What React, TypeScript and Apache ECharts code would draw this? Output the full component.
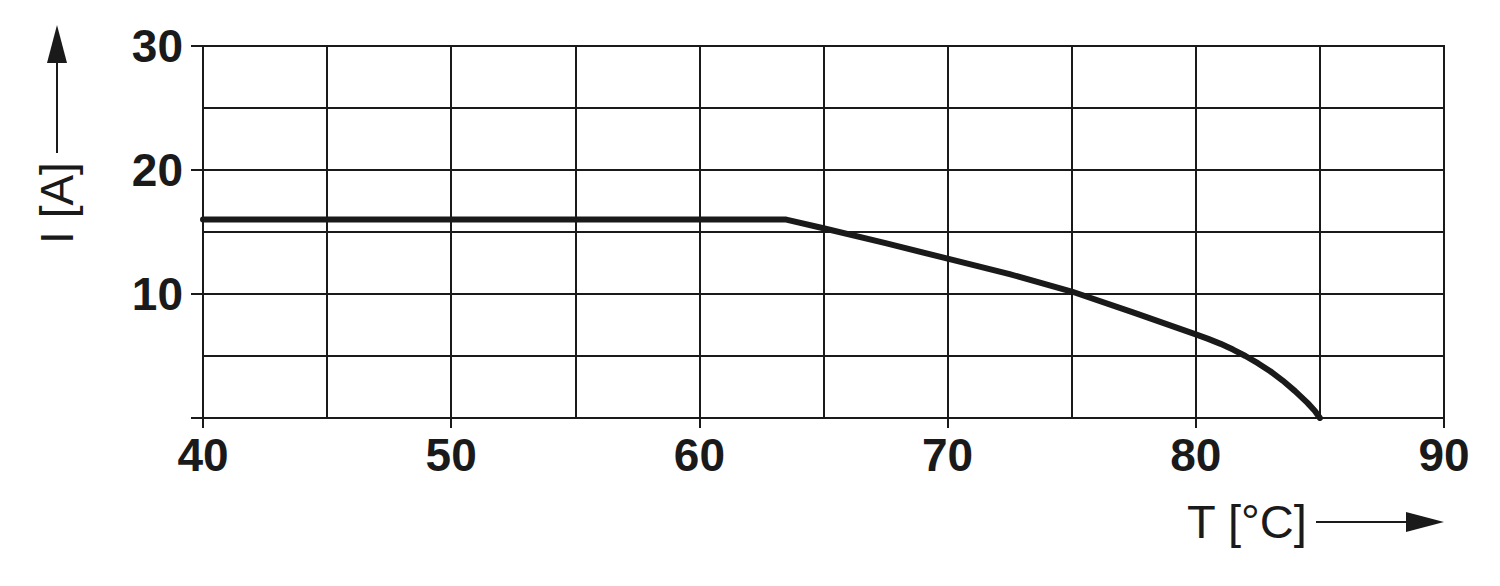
import React, { useEffect, useRef } from "react";
import * as echarts from "echarts";

const temps = [40, 63.5, 65, 67.5, 70, 72.5, 75, 77.5, 80, 80.5, 81, 81.5, 82, 82.5, 83, 83.5, 84, 84.5, 84.8, 85];
const currents = [16, 16, 15.3, 14.1, 12.85, 11.6, 10.2, 8.5, 6.75, 6.38, 5.98, 5.52, 5.0, 4.42, 3.77, 3.02, 2.17, 1.22, 0.57, 0];
const xName = "T [°C]";
const yName = "I [A]";

const FONT = "'Liberation Sans', Arial, Helvetica, sans-serif";
const INK = "#1a1a1a";

export default function App() {
  const ref = useRef<HTMLDivElement>(null);
  useEffect(() => {
    document.body.style.margin = "0";
    if (!ref.current) return;
    const chart = echarts.init(ref.current, null, { renderer: "svg" });
    const data = temps.map((t, i) => [t, currents[i]]);
    chart.setOption({
      animation: false,
      backgroundColor: "#ffffff",
      grid: {
        left: 203,
        top: 46,
        width: 1241,
        height: 372,
        show: true,
        borderWidth: 2,
        borderColor: INK,
        backgroundColor: "transparent",
      },
      xAxis: [
        {
          type: "value",
          min: 40,
          max: 90,
          interval: 10,
          position: "bottom",
          axisLine: { show: false },
          axisTick: { show: true, inside: false, length: 10, lineStyle: { color: INK, width: 2 } },
          axisLabel: { fontFamily: FONT, fontWeight: "bold", fontSize: 46, color: INK, margin: 14 },
          splitLine: { show: false },
        },
        {
          type: "value",
          min: 40,
          max: 90,
          interval: 5,
          position: "top",
          axisLine: { show: false },
          axisTick: { show: false },
          axisLabel: { show: false },
          splitLine: { show: true, lineStyle: { color: INK, width: 2 } },
        },
      ],
      yAxis: [
        {
          type: "value",
          min: 0,
          max: 30,
          interval: 10,
          position: "left",
          axisLine: { show: false },
          axisTick: { show: true, length: 12, lineStyle: { color: INK, width: 2 } },
          axisLabel: {
            fontFamily: FONT,
            fontWeight: "bold",
            fontSize: 46,
            color: INK,
            margin: 20,
            formatter: (v: number) => (v === 0 ? "" : String(v)),
          },
          splitLine: { show: false },
        },
        {
          type: "value",
          min: 0,
          max: 30,
          interval: 5,
          position: "right",
          axisLine: { show: false },
          axisTick: { show: false },
          axisLabel: { show: false },
          splitLine: { show: true, lineStyle: { color: INK, width: 2 } },
        },
      ],
      series: [
        {
          type: "line",
          xAxisIndex: 0,
          yAxisIndex: 0,
          data,
          symbol: "none",
          smooth: false,
          lineStyle: { color: INK, width: 6, cap: "round", join: "round" },
          z: 5,
        },
      ],
      graphic: [
        {
          type: "line",
          shape: { x1: 57, y1: 153, x2: 57, y2: 60 },
          style: { stroke: INK, lineWidth: 2 },
        },
        {
          type: "polygon",
          shape: { points: [[47, 63], [67, 63], [57, 25]] },
          style: { fill: INK },
        },
        {
          type: "text",
          x: 57,
          y: 203,
          rotation: Math.PI / 2,
          style: {
            text: yName,
            fontFamily: FONT,
            fontSize: 46,
            fill: INK,
            align: "center",
            verticalAlign: "middle",
          },
        },
        {
          type: "text",
          x: 1187,
          y: 521,
          style: {
            text: xName,
            fontFamily: FONT,
            fontSize: 47,
            fill: INK,
            align: "left",
            verticalAlign: "middle",
          },
        },
        {
          type: "line",
          shape: { x1: 1316, y1: 522, x2: 1410, y2: 522 },
          style: { stroke: INK, lineWidth: 2 },
        },
        {
          type: "polygon",
          shape: { points: [[1406, 512], [1406, 532], [1444, 522]] },
          style: { fill: INK },
        },
      ],
    });
    return () => chart.dispose();
  }, []);
  return <div ref={ref} style={{ width: 1500, height: 586 }} />;
}
